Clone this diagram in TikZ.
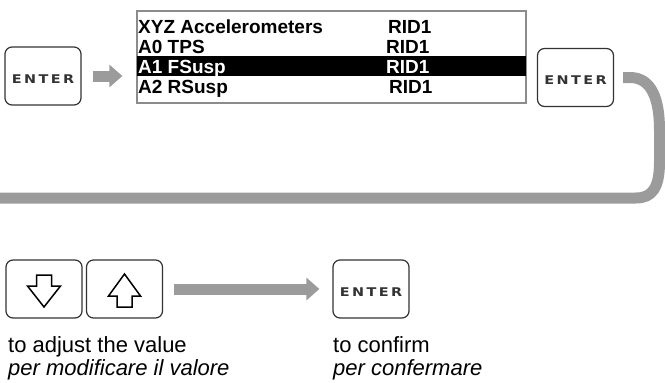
\documentclass[tikz,border=0pt]{standalone}
\usepackage{fontspec}
\setmainfont{Liberation Sans}
\newfontfamily\keyfont[FakeStretch=1.2,LetterSpace=20]{DejaVu Sans}
\usetikzlibrary{arrows.meta}
\definecolor{arrowgray}{HTML}{9B9B9B}
\definecolor{keygray}{HTML}{333333}
\definecolor{screengray}{HTML}{8C8C8C}

\begin{document}
\begin{tikzpicture}[x=1pt, y=-1pt,
	key/.style={draw=keygray, line width=1.2pt, rounded corners=7pt, minimum width=76pt, minimum height=58pt, inner sep=0pt, text height=14pt, text depth=0pt, text=keygray, font=\keyfont\bfseries\fontsize{12}{12}\selectfont},
	keysymbol/.style={draw=black, line width=1.5pt, line join=miter},
	screen/.style={draw=screengray, line width=1.2pt, minimum width=389pt, minimum height=92pt, inner sep=0pt},
	row/.style={anchor=base west, inner sep=0pt, font=\bfseries\fontsize{19}{19}\selectfont},
	caption/.style={anchor=base west, inner sep=0pt, font=\fontsize{22}{23}\selectfont},
	fatline/.style={draw=arrowgray, line width=11pt},
	fatarrow/.style={fatline, -{Triangle[length=13pt, width=22pt]}}]
	\useasboundingbox (0,0) rectangle (665,383);
	% first step
	\node[key] (enterA) at (43,76) {ENTER};
	\node[screen] (display) at (331.5,57) {};
	\fill[black] (137,56) rectangle (526,76);
	\node[row] (row0) at (138,33) {XYZ Accelerometers};
	\node[row] (row1) at (138,53) {A0 TPS};
	\node[row, white] (row2) at (138,73) {A1 FSusp};
	\node[row] (row3) at (138,93) {A2 RSusp};
	\node[row] (rid0) at (388,33) {RID1};
	\node[row] (rid1) at (386,53) {RID1};
	\node[row, white] (rid2) at (386,73) {RID1};
	\node[row] (rid3) at (389,93) {RID1};
	\node[key] (enterB) at (575.5,77.5) {ENTER};
	\coordinate (loopend) at (0,198);
	\draw[fatarrow, shorten <=11pt, shorten >=14pt] (enterA.east) -- (enterA.east -| display.west);
	\draw[fatline] ([xshift=9pt]enterB.east) -- (630,77.5) .. controls (652,77.5) and (659.5,100) .. (659.5,130) -- (659.5,162) .. controls (659.5,188) and (652,198) .. (636,198) -- (loopend);
	% second step
	\node[key] (down) at (44,289) {};
	\node[key] (up) at (124.5,289) {};
	\node[key] (enterC) at (371,289) {ENTER};
	\draw[keysymbol] (down.center) ++(-7.5,-14) -- ++(15,0) -- ++(0,11) -- ++(9,0) -- ++(-16.5,21) -- ++(-16.5,-21) -- ++(9,0) -- cycle;
	\draw[keysymbol] (up.center) ++(0,-15) -- ++(16,22) -- ++(-8.5,0) -- ++(0,11) -- ++(-15,0) -- ++(0,-11) -- ++(-8.5,0) -- cycle;
	\draw[fatarrow, shorten <=11pt, shorten >=13pt] (up) -- (enterC);
	\node[caption] (adjust) at (8,352) {to adjust the value};
	\node[caption, font=\fontsize{22}{23}\selectfont\itshape] (adjustit) at (8,375) {per modificare il valore};
	\node[caption] (confirm) at (333,352) {to confirm};
	\node[caption, font=\fontsize{22}{23}\selectfont\itshape] (confirmit) at (333,375) {per confermare};
\end{tikzpicture}
\end{document}
